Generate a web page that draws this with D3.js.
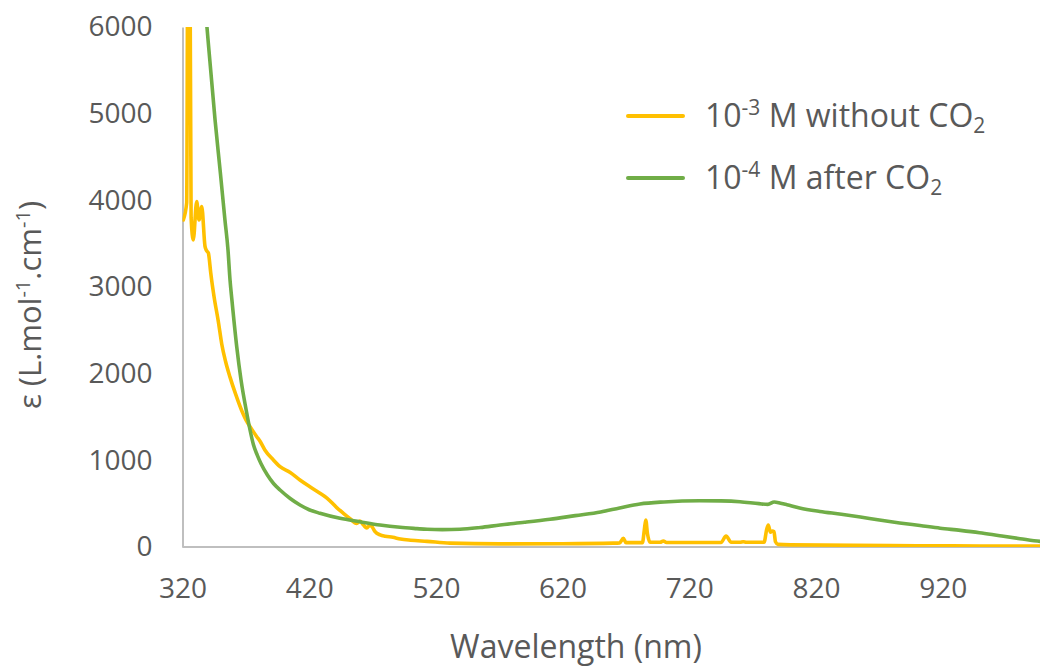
<!DOCTYPE html>
<html>
<head>
<meta charset="utf-8">
<script src="https://cdn.jsdelivr.net/npm/d3@7"></script>
<style>
  html, body { margin: 0; padding: 0; background: #fff; }
  svg { display: block; font-family: "Open Sans", "Noto Sans", sans-serif; }
</style>
</head>
<body>
<svg id="chart" width="1040" height="668"></svg>
<script>
// ---- data (wavelength nm, epsilon L.mol-1.cm-1) ----
const seriesNames = ["10-3 M without CO2", "10-4 M after CO2"];
const seriesColors = ["#FFC000", "#70AD47"];

const withoutCO2 = [
  [320.6,3773],[323.3,3970],[324.2,7000],[325.8,7000],[326.8,3800],[328.5,3543],
  [331.2,3985],[333,3773],[335.2,3927],[337.8,3465],[339,3420],[340.4,3393],
  [342.3,3162],[343,3081],[345,2880],[348.3,2600],[351,2340],[354,2140],[357.5,1960],
  [362,1760],[366.7,1575],[369.3,1490],[371.5,1430],[374.6,1360],[378.6,1273],
  [381.2,1220],[385,1120],[391.7,1004],[397,927],[405,860],[412.7,773],[420,700],
  [428.5,620],[434,565],[441.7,455],[447,389],[452,330],[457.5,272],[460,300],
  [463,250],[465.4,220],[468,254],[470,225],[472,177],[476,140],[480,125],[486,112],
  [492,92],[500,78],[513,65],[531,45],[570,36],[620,38],[660,45],[665,48],[667.9,100],
  [670,50],[683,50],[684.5,200],[685.6,312],[687,150],[689,55],[697,55],[699.5,69],
  [702,52],[745,52],[749,127],[753,55],[760,55],[762.6,61],[765,55],[779,55],
  [781,200],[782.3,254],[784,170],[785.5,185],[786.8,177],[788,60],[790,30],
  [800,25],[850,20],[900,15],[950,12],[1000,10]
];

const afterCO2 = [
  [333,7100],[339.3,6000],[345.7,4927],[350,4300],[353.5,3773],[355.9,3428],
  [357.5,3081],[359,2850],[362.8,2311],[366.2,1927],[370.7,1546],[373.3,1350],
  [376,1180],[379,1060],[382,960],[387,830],[392,730],[397,658],[405,560],
  [412.7,485],[420,430],[428.5,389],[444.3,331],[460,292],[475.9,254],[491.7,227],
  [505,212],[513,204],[525,200],[539,204],[555,225],[570.6,254],[590,285],[610,320],
  [630,362],[650,404],[665,450],[681,496],[700,520],[728,534],[745,532],[760,523],
  [775,500],[782,492],[787,519],[792,505],[797,488],[807,450],[823,410],[840,378],
  [855,346],[870,312],[886,278],[902,248],[918,217],[934,192],[949,165],[965,130],
  [981,96],[997,65],[1000,62]
];

const xTicks = [320, 420, 520, 620, 720, 820, 920];
const yTicks = [0, 1000, 2000, 3000, 4000, 5000, 6000];

// ---- drawing ----
const svg = d3.select("#chart");
const textColor = "#595959";
const axisColor = "#BFBFBF";

const x = d3.scaleLinear().domain([320, 1000]).range([182.5, 1044.1]);
const y = d3.scaleLinear().domain([0, 6000]).range([547, 27]);

svg.append("defs").append("clipPath").attr("id", "plotclip")
  .append("rect").attr("x", x(320)).attr("y", y(6000))
  .attr("width", 1040 - x(320)).attr("height", y(0) - y(6000));

// axes
const xAxis = svg.append("g").attr("transform", `translate(0,${y(0)})`)
  .call(d3.axisBottom(x).tickValues(xTicks).tickSize(0).tickPadding(31).tickFormat(d3.format("d")));
xAxis.select(".domain").attr("stroke", axisColor).attr("stroke-width", 2)
  .attr("d", `M${x(320)},0H1040`);
xAxis.selectAll("text").attr("fill", textColor).attr("font-size", 28)
  .attr("font-family", "'Open Sans', sans-serif");

const yAxis = svg.append("g").attr("transform", `translate(${x(320)},0)`)
  .call(d3.axisLeft(y).tickValues(yTicks).tickSize(0).tickPadding(30).tickFormat(d3.format("d")));
yAxis.select(".domain").attr("stroke", axisColor).attr("stroke-width", 2);
yAxis.selectAll("text").attr("fill", textColor).attr("font-size", 28)
  .attr("font-family", "'Open Sans', sans-serif");

// lines
const line = d3.line().x(d => x(d[0])).y(d => y(d[1])).curve(d3.curveMonotoneX);
const plot = svg.append("g").attr("clip-path", "url(#plotclip)");
[withoutCO2, afterCO2].forEach((data, i) => {
  plot.append("path").datum(data)
    .attr("fill", "none")
    .attr("stroke", seriesColors[i])
    .attr("stroke-width", 3.6)
    .attr("stroke-linejoin", "round")
    .attr("stroke-linecap", "round")
    .attr("d", line);
});

// axis titles
svg.append("text")
  .attr("x", 576).attr("y", 658)
  .attr("text-anchor", "middle")
  .attr("fill", textColor).attr("font-size", 32)
  .text("Wavelength (nm)");

const yt = svg.append("text")
  .attr("transform", "translate(41,305) rotate(-90)")
  .attr("text-anchor", "middle")
  .attr("fill", textColor).attr("font-size", 31);
yt.append("tspan").text("ε (L.mol");
yt.append("tspan").attr("font-size", 20).attr("dy", -11).text("-1");
yt.append("tspan").attr("dy", 11).text(".cm");
yt.append("tspan").attr("font-size", 20).attr("dy", -11).text("-1");
yt.append("tspan").attr("dy", 11).text(")");

// legend
const legendY = [116, 178];
const legendParts = [["10", "-3", " M without CO", "2"], ["10", "-4", " M after CO", "2"]];
legendParts.forEach((p, i) => {
  const g = svg.append("g");
  g.append("line").attr("x1", 628).attr("x2", 683)
    .attr("y1", legendY[i]).attr("y2", legendY[i])
    .attr("stroke", seriesColors[i]).attr("stroke-width", 4).attr("stroke-linecap", "round");
  const t = g.append("text").attr("x", 705).attr("y", legendY[i] + 11)
    .attr("fill", textColor).attr("font-size", 32);
  t.append("tspan").text(p[0]);
  t.append("tspan").attr("font-size", 21).attr("dy", -12).text(p[1]);
  t.append("tspan").attr("dy", 12).text(p[2]);
  t.append("tspan").attr("font-size", 21).attr("dy", 6).text(p[3]);
});
</script>
</body>
</html>
